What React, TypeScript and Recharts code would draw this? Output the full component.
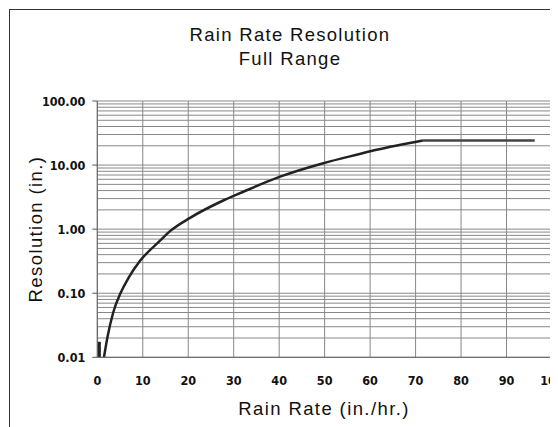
import React from "react";
import { LineChart, Line, XAxis, YAxis, CartesianGrid } from "recharts";

// Main curve: rain rate (in./hr.) vs resolution (in.)
const rainRate = [1.47, 2.2, 3.5, 5.1, 6.9, 9.4, 13.8, 16, 20.4, 27.7, 31.4, 40.2, 49.7, 57.7, 61.4, 71.6];
const resolution = [0.01, 0.02, 0.05, 0.1, 0.175, 0.32, 0.66, 0.93, 1.5, 2.8, 3.65, 6.6, 10.7, 14.9, 17.3, 24.2];

// Flat (capped) part of the curve
const flatX = [71.6, 96.2];
const flatY = [24.2, 24.2];

// Small marks near zero
const barX = [0.45, 0.45];
const barY = [0.01, 0.0175];
const stubX = [0, 0];
const stubY = [0.01, 0.036];

const xTicks = [0, 10, 20, 30, 40, 50, 60, 70, 80, 90, 100];
const decades = [0.01, 0.1, 1, 10, 100];
const minorMult = [1, 2, 3, 4, 5, 6, 7, 8, 9];
const yTickLabels = ["0.01", "0.10", "1.00", "10.00", "100.00"];

const curveData = rainRate.map((x, i) => ({ x, y: resolution[i] }));
const flatData = flatX.map((x, i) => ({ x, y: flatY[i] }));
const barData = barX.map((x, i) => ({ x, y: barY[i] }));
const stubData = stubX.map((x, i) => ({ x, y: stubY[i] }));

const yTicks: number[] = [];
decades.slice(0, 4).forEach((d) => minorMult.forEach((m) => yTicks.push(+(d * m).toPrecision(3))));
yTicks.push(100);

const tickFont = "'Liberation Sans Narrow', 'Arial Narrow', 'DejaVu Sans Condensed', sans-serif";
const titleFont = "'Liberation Sans', Arial, sans-serif";

const YTick = (props: any) => {
  const { x, y, payload } = props;
  const idx = decades.findIndex((d) => Math.abs(d - payload.value) < 1e-9);
  if (idx < 0) return null;
  return (
    <g>
      <line x1={x - 5} x2={x} y1={y} y2={y} stroke="#555" strokeWidth={1} />
      <text x={x - 12} y={y + 4.5} textAnchor="end" fontFamily={tickFont} fontWeight="bold" fontSize={12.5} fill="#111">
        {yTickLabels[idx]}
      </text>
    </g>
  );
};

const XTick = (props: any) => {
  const { x, y, payload } = props;
  return (
    <text x={x} y={y + 28} textAnchor="middle" fontFamily={tickFont} fontWeight="bold" fontSize={12.5} fill="#111">
      {payload.value}
    </text>
  );
};

export default function App() {
  return (
    <div style={{ position: "relative", width: 550, height: 419, overflow: "hidden", background: "#fff" }}>
      <div
        style={{
          position: "absolute",
          left: 1,
          top: 1,
          width: 600,
          height: 600,
          border: "1.5px solid #333",
          boxSizing: "border-box",
        }}
      />
      <div style={{ position: "absolute", left: 0, top: 0 }}>
        <LineChart
          width={550}
          height={419}
          margin={{ top: 93, right: 6, bottom: 40, left: 0 }}
        >
          <CartesianGrid stroke="#888" strokeWidth={1} horizontal={true} vertical={true} />
          <XAxis
            dataKey="x"
            type="number"
            domain={[0, 100]}
            ticks={xTicks}
            interval={0}
            tick={<XTick />}
            tickLine={false}
            tickSize={0}
            tickMargin={0}
            axisLine={{ stroke: "#666" }}
            height={29.7}
            allowDataOverflow
          />
          <YAxis
            dataKey="y"
            type="number"
            scale="log"
            domain={[0.01, 100]}
            ticks={yTicks}
            interval={0}
            tick={<YTick />}
            tickLine={false}
            tickSize={0}
            tickMargin={0}
            axisLine={{ stroke: "#666" }}
            width={89.3}
            allowDataOverflow
          />
          <Line data={stubData} dataKey="y" type="linear" stroke="#666" strokeWidth={1.5} dot={false} isAnimationActive={false} />
          <Line data={barData} dataKey="y" type="linear" stroke="#222" strokeWidth={3} dot={false} isAnimationActive={false} />
          <Line data={flatData} dataKey="y" type="linear" stroke="#444" strokeWidth={2.5} dot={false} isAnimationActive={false} />
          <Line data={curveData} dataKey="y" type="monotone" stroke="#222" strokeWidth={2.5} dot={false} isAnimationActive={false} />
        </LineChart>
      </div>
      <svg width={550} height={419} style={{ position: "absolute", left: 0, top: 0, pointerEvents: "none" }}>
        <text x={282} y={32.7} textAnchor="middle" fontFamily={titleFont} fontSize={18.5} letterSpacing={1.3} fill="#111">
          Rain Rate Resolution
        </text>
        <text x={282} y={57} textAnchor="middle" fontFamily={titleFont} fontSize={18.5} letterSpacing={1.3} fill="#111">
          Full Range
        </text>
        <text x={316} y={407} textAnchor="middle" fontFamily={titleFont} fontSize={18.5} letterSpacing={1.4} fill="#111">
          Rain Rate (in./hr.)
        </text>
        <text
          x={33.7}
          y={221}
          textAnchor="middle"
          transform="rotate(-90, 33.7, 221)"
          fontFamily={titleFont}
          fontSize={18.5}
          letterSpacing={1.4}
          fill="#111"
        >
          Resolution (in.)
        </text>
      </svg>
    </div>
  );
}
